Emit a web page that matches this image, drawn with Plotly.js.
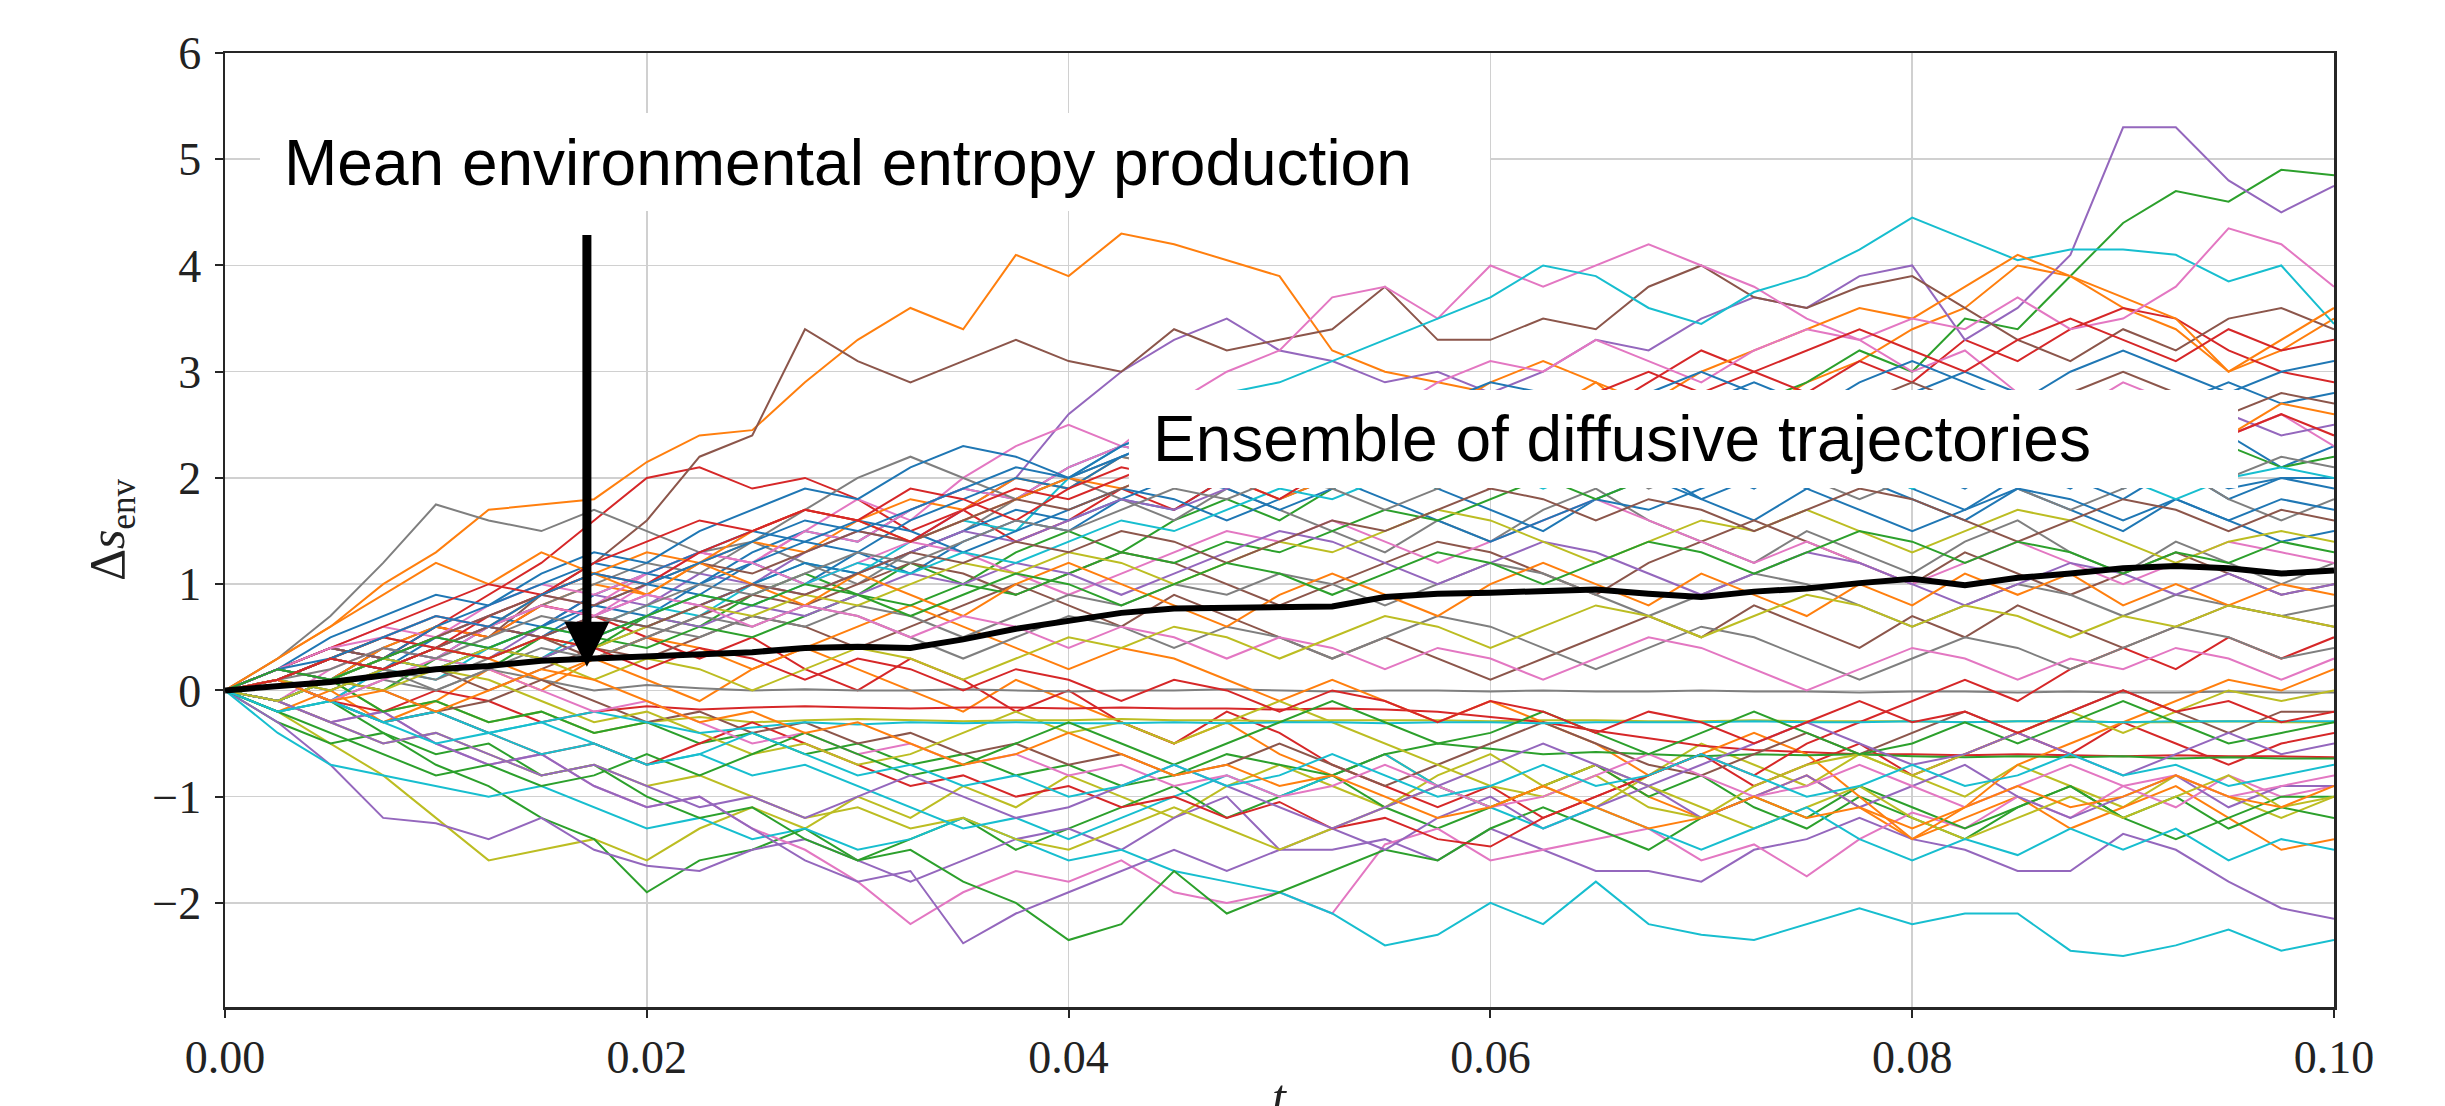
<!DOCTYPE html>
<html>
<head>
<meta charset="utf-8">
<script src="https://cdn.plot.ly/plotly-3.0.1.min.js"></script>
<style>html,body{margin:0;padding:0;background:#fff;}#chart{width:2445px;height:1106px;}</style>
</head>
<body>
<div id="chart"></div>
<script>
// time grid (t)
const T = [0, 0.0025, 0.005, 0.0075, 0.01, 0.0125, 0.015, 0.0175, 0.02, 0.0225, 0.025, 0.0275, 0.03, 0.0325, 0.035, 0.0375, 0.04, 0.0425, 0.045, 0.0475, 0.05, 0.0525, 0.055, 0.0575, 0.06, 0.0625, 0.065, 0.0675, 0.07, 0.0725, 0.075, 0.0775, 0.08, 0.0825, 0.085, 0.0875, 0.09, 0.0925, 0.095, 0.0975, 0.1];

// mean environmental entropy production
const MEAN = [0.00, 0.04, 0.08, 0.14, 0.20, 0.23, 0.28, 0.30, 0.32, 0.34, 0.36, 0.40, 0.41, 0.40, 0.48, 0.58, 0.66, 0.73, 0.77, 0.78, 0.78, 0.79, 0.88, 0.91, 0.92, 0.94, 0.95, 0.91, 0.88, 0.93, 0.96, 1.01, 1.05, 0.99, 1.06, 1.10, 1.15, 1.17, 1.15, 1.10, 1.13];

// individual trajectories (Delta s_env)
const traj00 = [0, 0.2, 0.1, 0.4, 0.3, 0.6, 0.5, 0.8, 0.7, 1.0, 1.2, 1.0, 1.3, 1.1, 1.4, 1.6, 1.5, 1.8, 1.7, 2.0, 2.2, 1.9, 2.1, 2.4, 2.2, 2.0, 2.3, 2.1, 1.8, 2.0, 2.3, 2.5, 2.2, 2.4, 2.1, 1.9, 2.2, 2.0, 2.4, 2.1, 2.3];
const traj01 = [0, 0.3, 0.6, 1.0, 1.3, 1.7, 1.75, 1.8, 2.15, 2.4, 2.45, 2.9, 3.3, 3.6, 3.4, 4.1, 3.9, 4.3, 4.2, 4.05, 3.9, 3.2, 3.0, 2.9, 2.8, 2.6, 2.9, 2.5, 2.3, 2.6, 2.9, 3.1, 3.4, 3.6, 4.0, 3.9, 3.6, 3.4, 3.0, 3.2, 3.5];
const traj02 = [0, -0.1, 0.1, 0.0, 0.3, 0.2, 0.5, 0.4, 0.7, 0.6, 0.9, 1.1, 0.9, 1.2, 1.0, 1.3, 1.5, 1.3, 1.6, 1.8, 1.6, 1.9, 2.1, 1.9, 2.2, 2.0, 2.3, 2.6, 2.4, 2.7, 2.9, 3.2, 3.0, 3.5, 3.4, 3.9, 4.4, 4.7, 4.6, 4.9, 4.85];
const traj03 = [0, 0.2, 0.4, 0.3, 0.6, 0.9, 1.2, 1.6, 2.0, 2.1, 1.9, 2.0, 1.8, 1.5, 1.7, 1.4, 1.6, 1.9, 1.7, 2.0, 2.3, 2.1, 2.4, 2.2, 2.5, 2.8, 2.6, 2.9, 3.2, 3.0, 2.8, 3.1, 2.9, 3.3, 3.1, 3.4, 3.6, 3.5, 3.2, 3.0, 2.9];
const traj04 = [0, 0.1, -0.1, 0.2, 0.4, 0.3, 0.6, 0.9, 0.8, 1.1, 1.0, 1.3, 1.5, 1.4, 1.7, 2.0, 2.6, 3.0, 3.3, 3.5, 3.2, 3.1, 2.9, 3.0, 2.8, 3.0, 3.3, 3.2, 3.5, 3.7, 3.6, 3.9, 4.0, 3.3, 3.6, 4.1, 5.3, 5.3, 4.8, 4.5, 4.75];
const traj05 = [0, 0.2, 0.1, 0.4, 0.6, 0.5, 0.9, 1.2, 1.6, 2.2, 2.4, 3.4, 3.1, 2.9, 3.1, 3.3, 3.1, 3.0, 3.4, 3.2, 3.3, 3.4, 3.8, 3.3, 3.3, 3.5, 3.4, 3.8, 4.0, 3.7, 3.6, 3.8, 3.9, 3.6, 3.3, 3.1, 3.4, 3.2, 3.5, 3.6, 3.4];
const traj06 = [0, -0.1, 0.2, 0.4, 0.3, 0.6, 0.8, 0.7, 1.0, 1.3, 1.2, 1.5, 1.8, 1.6, 2.0, 2.3, 2.5, 2.3, 2.7, 3.0, 3.2, 3.7, 3.8, 3.5, 4.0, 3.8, 4.0, 4.2, 4.0, 3.8, 3.5, 3.3, 3.0, 3.2, 2.8, 2.6, 2.9, 2.7, 2.4, 2.6, 2.3];
const traj07 = [0, 0.3, 0.7, 1.2, 1.75, 1.6, 1.5, 1.7, 1.5, 1.3, 1.4, 1.2, 1.0, 1.3, 1.5, 1.8, 2.0, 1.8, 1.6, 1.9, 1.7, 1.5, 1.3, 1.6, 1.4, 1.7, 1.9, 1.6, 1.4, 1.2, 1.5, 1.3, 1.1, 1.4, 1.6, 1.3, 1.1, 1.4, 1.2, 1.0, 1.2];
const traj08 = [0, -0.2, -0.5, -0.8, -1.2, -1.6, -1.5, -1.4, -1.6, -1.3, -1.1, -1.3, -1.0, -1.2, -0.9, -1.1, -0.8, -1.0, -1.2, -0.9, -0.7, -0.9, -1.1, -0.8, -0.6, -0.9, -1.1, -0.8, -0.5, -0.7, -0.9, -0.6, -0.8, -1.0, -0.7, -0.9, -1.1, -0.8, -1.0, -1.2, -1.0];
const traj09 = [0, 0.1, -0.1, 0.2, 0.1, 0.4, 0.3, 0.6, 0.8, 0.7, 1.0, 1.2, 1.1, 1.4, 1.6, 1.5, 2.0, 2.3, 2.5, 2.8, 2.9, 3.1, 3.3, 3.5, 3.7, 4.0, 3.9, 3.6, 3.45, 3.75, 3.9, 4.15, 4.45, 4.25, 4.05, 4.15, 4.15, 4.1, 3.85, 4.0, 3.45];
const traj10 = [0, 0.1, 0.3, 0.2, 0.5, 0.7, 0.6, 0.9, 1.1, 1.0, 1.3, 1.5, 1.4, 1.7, 1.9, 1.8, 2.1, 2.3, 2.2, 2.5, 2.7, 2.5, 2.3, 2.6, 2.4, 2.2, 2.0, 2.3, 2.1, 1.9, 2.2, 2.0, 1.8, 1.6, 1.9, 1.7, 1.5, 1.8, 1.6, 1.4, 1.5];
const traj11 = [0, -0.2, 0.0, -0.3, -0.1, 0.2, 0.0, 0.3, 0.1, -0.1, 0.2, 0.4, 0.2, 0.0, -0.2, 0.1, -0.1, -0.3, -0.5, -0.3, -0.6, -0.8, -0.6, -0.9, -1.1, -0.9, -0.7, -1.0, -1.2, -1.0, -0.8, -1.1, -1.4, -1.2, -1.0, -1.3, -1.1, -0.9, -1.2, -1.5, -1.4];
const traj12 = [0, -0.3, -0.5, -0.4, -0.7, -0.9, -1.2, -1.4, -1.9, -1.6, -1.5, -1.3, -1.6, -1.4, -1.2, -1.5, -1.3, -1.1, -0.9, -1.2, -1.0, -0.8, -1.1, -1.3, -1.1, -0.9, -0.7, -1.0, -0.8, -1.1, -1.3, -1.0, -1.2, -1.4, -1.1, -0.9, -1.2, -1.0, -1.3, -1.1, -1.2];
const traj13 = [0, 0.2, 0.4, 0.3, 0.6, 0.5, 0.8, 0.7, 0.5, 0.3, 0.5, 0.2, 0.0, 0.3, 0.1, -0.2, 0.0, -0.3, -0.5, -0.2, -0.4, -0.7, -0.9, -1.1, -0.9, -1.2, -1.0, -0.8, -0.6, -0.9, -0.7, -0.5, -0.8, -0.6, -0.4, -0.6, -0.3, -0.5, -0.7, -0.5, -0.4];
const traj14 = [0, -0.3, -0.7, -1.2, -1.25, -1.4, -1.2, -1.5, -1.65, -1.7, -1.5, -1.4, -1.6, -1.8, -1.6, -1.4, -1.3, -1.5, -1.2, -1.0, -1.5, -1.5, -1.4, -1.6, -1.3, -1.5, -1.7, -1.7, -1.8, -1.5, -1.4, -1.2, -1.4, -1.5, -1.7, -1.7, -1.35, -1.5, -1.8, -2.05, -2.15];
const traj15 = [0, -0.1, 0.1, 0.3, 0.2, 0.0, 0.2, 0.4, 0.3, 0.5, 0.7, 0.6, 0.4, 0.6, 0.8, 1.0, 0.8, 0.6, 0.9, 0.7, 0.5, 0.3, 0.5, 0.3, 0.1, 0.3, 0.5, 0.7, 0.5, 0.8, 0.6, 0.4, 0.7, 0.5, 0.8, 0.6, 0.4, 0.6, 0.8, 0.7, 0.6];
const traj16 = [0, -0.1, -0.3, -0.2, -0.5, -0.7, -0.6, -0.9, -1.1, -1.0, -1.3, -1.5, -1.8, -2.2, -1.9, -1.7, -1.8, -1.6, -1.9, -2.0, -1.9, -2.1, -1.45, -1.3, -1.6, -1.5, -1.4, -1.3, -1.6, -1.45, -1.75, -1.4, -1.15, -1.3, -1.0, -1.2, -0.9, -1.1, -0.8, -1.0, -0.9];
const traj17 = [0, 0.1, -0.1, 0.1, 0.0, 0.2, 0.1, 0.0, 0.05, 0.02, 0.0, 0.01, 0.0, 0.0, 0.01, 0.0, -0.01, 0.0, 0.0, 0.01, 0.0, -0.01, 0.0, 0.0, -0.01, 0.0, -0.01, -0.01, 0.0, -0.01, -0.01, -0.02, -0.01, -0.01, -0.02, -0.01, -0.02, -0.02, -0.01, -0.02, -0.02];
const traj18 = [0, -0.1, 0.1, -0.2, -0.1, -0.3, -0.2, -0.4, -0.3, -0.25, -0.3, -0.28, -0.27, -0.28, -0.29, -0.28, -0.28, -0.27, -0.28, -0.28, -0.29, -0.28, -0.28, -0.28, -0.29, -0.28, -0.28, -0.29, -0.29, -0.28, -0.29, -0.29, -0.29, -0.3, -0.29, -0.29, -0.3, -0.3, -0.29, -0.3, -0.3];
const traj19 = [0, -0.4, -0.7, -0.8, -0.9, -1.0, -0.9, -1.1, -1.3, -1.2, -1.4, -1.3, -1.5, -1.4, -1.2, -1.4, -1.6, -1.5, -1.7, -1.8, -1.9, -2.1, -2.4, -2.3, -2.0, -2.2, -1.8, -2.2, -2.3, -2.35, -2.2, -2.05, -2.2, -2.1, -2.1, -2.45, -2.5, -2.4, -2.25, -2.45, -2.35];
const traj20 = [0, 0.1, 0.0, 0.2, 0.4, 0.3, 0.5, 0.7, 0.6, 0.8, 1.0, 1.2, 1.1, 1.3, 1.5, 1.7, 1.6, 1.8, 2.0, 1.9, 1.7, 1.9, 2.1, 1.9, 1.7, 1.5, 1.8, 2.0, 1.8, 1.6, 1.9, 2.1, 1.9, 1.7, 2.0, 2.2, 1.9, 2.1, 1.8, 2.0, 2.0];
const traj21 = [0, 0.2, 0.1, 0.4, 0.6, 0.5, 0.8, 1.0, 0.9, 1.2, 1.4, 1.3, 1.6, 1.8, 1.7, 2.0, 1.9, 2.2, 2.1, 2.4, 2.6, 2.5, 2.8, 2.6, 2.9, 3.1, 2.9, 2.7, 3.0, 3.2, 3.4, 3.6, 3.5, 3.8, 4.1, 3.9, 3.7, 3.5, 3.0, 3.3, 3.6];
const traj22 = [0, -0.2, -0.1, -0.4, -0.6, -0.5, -0.8, -0.7, -1.0, -1.2, -1.1, -1.4, -1.6, -1.5, -1.8, -2.0, -2.35, -2.2, -1.7, -2.1, -1.9, -1.7, -1.5, -1.6, -1.3, -1.1, -1.3, -1.5, -1.2, -1.0, -1.2, -0.9, -1.1, -1.3, -1.1, -0.9, -1.2, -1.4, -1.2, -1.0, -1.0];
const traj23 = [0, 0.1, -0.1, -0.2, 0.0, -0.1, -0.3, -0.2, -0.15, -0.18, -0.16, -0.15, -0.16, -0.17, -0.16, -0.16, -0.17, -0.16, -0.17, -0.17, -0.18, -0.17, -0.18, -0.2, -0.25, -0.3, -0.38, -0.45, -0.52, -0.56, -0.58, -0.6, -0.6, -0.61, -0.6, -0.61, -0.62, -0.61, -0.62, -0.62, -0.63];
const traj24 = [0, -0.1, -0.3, -0.2, -0.5, -0.7, -0.6, -0.9, -1.1, -1.0, -1.3, -1.6, -1.8, -1.7, -2.38, -2.1, -1.9, -1.7, -1.5, -1.7, -1.5, -1.3, -1.5, -1.2, -1.0, -1.3, -1.1, -0.9, -1.2, -1.0, -0.8, -1.1, -0.9, -0.7, -1.0, -1.2, -1.0, -0.8, -1.1, -0.9, -0.9];
const traj25 = [0, 0.1, 0.3, 0.2, 0.4, 0.6, 0.5, 0.3, 0.5, 0.7, 0.9, 0.8, 1.0, 1.2, 1.1, 0.9, 1.1, 1.3, 1.2, 1.0, 0.8, 1.0, 1.2, 1.4, 1.3, 1.1, 0.9, 1.2, 1.4, 1.6, 1.4, 1.2, 1.0, 1.3, 1.1, 0.9, 1.1, 1.3, 1.1, 0.9, 1.0];
const traj26 = [0, 0.2, 0.4, 0.3, 0.5, 0.7, 0.9, 0.8, 1.1, 1.3, 1.2, 1.5, 1.4, 1.7, 1.9, 1.8, 2.1, 2.3, 2.2, 2.5, 2.4, 2.7, 2.6, 2.9, 3.1, 3.0, 3.3, 3.1, 2.9, 3.2, 3.4, 3.3, 3.5, 3.4, 3.7, 3.4, 3.5, 3.8, 4.35, 4.2, 3.8];
const traj27 = [0, 0.1, 0.3, 0.5, 0.4, 0.6, 0.8, 1.0, 1.2, 1.1, 1.4, 1.7, 2.0, 2.2, 2.0, 1.8, 2.0, 2.2, 2.1, 2.3, 2.5, 2.3, 2.1, 2.4, 2.2, 2.0, 2.2, 1.9, 2.1, 2.3, 2.0, 1.8, 2.0, 2.2, 1.9, 1.7, 1.9, 2.1, 1.8, 1.6, 1.8];
const traj28 = [0, -0.1, -0.3, -0.5, -0.4, -0.6, -0.8, -0.7, -0.9, -0.8, -1.0, -1.2, -1.1, -1.3, -1.2, -1.4, -1.5, -1.3, -1.1, -1.3, -1.5, -1.3, -1.1, -0.9, -1.1, -0.9, -0.7, -0.9, -1.1, -1.3, -1.1, -0.9, -1.2, -1.4, -1.2, -1.0, -1.2, -1.0, -0.8, -1.1, -1.0];
const traj29 = [0, 0.1, -0.1, -0.3, -0.2, -0.4, -0.3, -0.5, -0.7, -0.6, -0.8, -0.7, -0.9, -1.1, -1.3, -1.2, -1.4, -1.2, -1.0, -0.8, -1.0, -0.8, -0.6, -0.9, -1.1, -1.3, -1.1, -1.3, -1.5, -1.3, -1.1, -1.4, -1.6, -1.4, -1.55, -1.3, -1.5, -1.3, -1.6, -1.4, -1.5];
const traj30 = [0, 0.2, 0.1, 0.3, 0.5, 0.4, 0.6, 0.8, 1.0, 0.9, 1.2, 1.4, 1.3, 1.6, 1.8, 2.0, 1.9, 2.2, 2.4, 2.3, 2.5, 2.7, 2.5, 2.3, 2.6, 2.8, 2.6, 2.4, 2.7, 2.9, 2.7, 2.5, 2.8, 3.0, 2.8, 2.6, 2.4, 2.7, 2.9, 2.7, 2.8];
const traj31 = [0, 0.1, 0.3, 0.2, 0.4, 0.3, 0.1, 0.3, 0.5, 0.4, 0.2, 0.4, 0.6, 0.8, 0.6, 0.4, 0.2, 0.4, 0.3, 0.1, -0.1, 0.1, -0.1, -0.3, -0.1, -0.3, -0.5, -0.8, -0.6, -0.4, -0.6, -1.0, -1.4, -1.1, -0.7, -0.5, -0.3, -0.1, 0.1, 0.0, 0.2];
const traj32 = [0, -0.1, 0.1, -0.2, -0.1, -0.3, -0.2, -0.4, -0.3, -0.5, -0.4, -0.6, -0.5, -0.7, -0.6, -0.8, -0.7, -0.9, -0.8, -0.6, -0.7, -0.8, -0.6, -0.5, -0.55, -0.6, -0.58, -0.6, -0.62, -0.6, -0.61, -0.6, -0.62, -0.63, -0.62, -0.63, -0.62, -0.64, -0.63, -0.64, -0.64];
const traj33 = [0, 0.1, -0.1, -0.3, -0.2, -0.4, -0.6, -0.5, -0.7, -0.5, -0.3, -0.5, -0.7, -0.9, -0.8, -1.0, -0.9, -1.1, -1.0, -1.2, -1.05, -1.3, -1.2, -1.4, -1.47, -1.2, -1.0, -0.8, -0.6, -0.8, -0.5, -0.3, -0.1, 0.1, -0.1, 0.2, 0.4, 0.2, 0.5, 0.3, 0.5];
const traj34 = [0, 0.1, 0.3, 0.2, 0.4, 0.6, 0.5, 0.7, 0.9, 0.8, 1.0, 0.9, 1.1, 1.3, 1.5, 1.4, 1.6, 1.8, 1.7, 1.9, 2.1, 2.0, 2.2, 2.4, 2.3, 2.1, 2.3, 2.5, 2.3, 2.1, 2.4, 2.6, 2.4, 2.2, 2.5, 2.7, 2.5, 2.3, 2.6, 2.4, 2.5];
const traj35 = [0, -0.1, 0.1, 0.0, -0.2, -0.1, 0.1, -0.1, -0.3, -0.2, -0.4, -0.3, -0.5, -0.4, -0.6, -0.5, -0.7, -0.6, -0.8, -0.7, -0.5, -0.7, -0.9, -0.7, -0.5, -0.3, -0.5, -0.7, -0.8, -0.6, -0.4, -0.6, -0.4, -0.2, -0.4, -0.2, 0.0, -0.2, -0.4, -0.2, -0.2];
const traj36 = [0, 0.2, 0.4, 0.6, 0.5, 0.8, 1.0, 0.9, 1.1, 1.3, 1.2, 1.0, 1.2, 1.4, 1.3, 1.1, 0.9, 1.1, 1.3, 1.5, 1.4, 1.6, 1.4, 1.2, 1.4, 1.6, 1.8, 1.6, 1.4, 1.2, 1.4, 1.2, 1.0, 1.2, 1.4, 1.2, 1.0, 1.2, 1.4, 1.3, 1.2];
const traj37 = [0, 0.1, 0.0, 0.2, 0.1, 0.3, 0.5, 0.4, 0.6, 0.5, 0.7, 0.6, 0.8, 0.7, 0.5, 0.7, 0.9, 0.8, 1.0, 0.9, 1.1, 1.0, 0.8, 1.0, 1.2, 1.1, 0.9, 0.7, 0.9, 1.1, 1.0, 0.8, 0.6, 0.8, 1.0, 0.9, 0.7, 0.9, 0.8, 0.7, 0.8];
const traj38 = [0, -0.1, 0.1, 0.0, 0.2, 0.1, -0.1, -0.3, -0.2, -0.4, -0.6, -0.5, -0.7, -0.6, -0.4, -0.2, -0.4, -0.3, -0.5, -0.3, -0.1, -0.3, -0.5, -0.7, -0.9, -1.0, -0.8, -1.1, -1.2, -0.9, -0.7, -0.6, -0.8, -0.6, -0.4, -0.2, -0.4, -0.2, 0.0, -0.1, 0.0];
const traj39 = [0, -0.2, -0.1, -0.3, -0.2, -0.4, -0.3, -0.2, -0.3, -0.4, -0.35, -0.3, -0.32, -0.3, -0.31, -0.3, -0.31, -0.31, -0.3, -0.31, -0.3, -0.3, -0.31, -0.3, -0.3, -0.31, -0.3, -0.3, -0.3, -0.29, -0.3, -0.3, -0.29, -0.3, -0.29, -0.29, -0.3, -0.29, -0.29, -0.29, -0.29];
const traj40 = [0, 0.2, 0.4, 0.3, 0.6, 0.8, 1.0, 1.2, 1.1, 1.3, 1.5, 1.4, 1.6, 1.5, 1.3, 1.5, 1.7, 1.9, 1.8, 1.6, 1.8, 2.0, 1.8, 1.6, 1.4, 1.6, 1.8, 1.7, 1.9, 2.1, 1.9, 1.7, 1.5, 1.7, 1.9, 1.8, 1.6, 1.8, 1.6, 1.8, 1.7];
const traj41 = [0, 0.1, 0.3, 0.5, 0.7, 0.6, 0.9, 1.1, 1.3, 1.2, 1.5, 1.7, 1.6, 1.4, 1.6, 1.8, 2.0, 1.9, 2.1, 2.0, 1.8, 2.0, 2.2, 2.4, 2.3, 2.5, 2.7, 2.5, 2.3, 2.5, 2.7, 2.6, 2.8, 2.6, 2.4, 2.6, 2.8, 2.6, 2.4, 2.7, 2.6];
const traj42 = [0, -0.1, 0.1, 0.3, 0.2, 0.4, 0.3, 0.5, 0.4, 0.6, 0.5, 0.7, 0.9, 0.8, 1.0, 0.9, 1.1, 1.3, 1.2, 1.4, 1.3, 1.5, 1.7, 1.6, 1.8, 2.0, 1.8, 2.0, 2.2, 2.4, 2.2, 2.0, 2.3, 2.5, 2.3, 2.1, 2.4, 2.6, 2.3, 2.1, 2.2];
const traj43 = [0, 0.1, 0.3, 0.5, 0.4, 0.7, 0.9, 1.1, 1.0, 1.3, 1.5, 1.7, 1.6, 1.9, 1.8, 1.6, 1.9, 2.1, 2.0, 2.2, 2.1, 2.3, 2.2, 2.5, 2.7, 2.6, 2.8, 3.0, 2.8, 3.0, 3.2, 3.4, 3.2, 3.0, 3.3, 3.5, 3.3, 3.1, 3.4, 3.2, 3.3];
const traj44 = [0, -0.1, 0.1, 0.3, 0.2, 0.4, 0.3, 0.5, 0.7, 0.6, 0.8, 0.7, 0.9, 1.1, 1.0, 1.2, 1.1, 0.9, 1.1, 1.3, 1.5, 1.4, 1.2, 1.0, 1.2, 1.4, 1.3, 1.1, 0.9, 1.1, 1.3, 1.2, 1.0, 0.8, 1.0, 1.2, 1.1, 0.9, 1.1, 0.9, 1.0];
const traj45 = [0, 0.2, 0.4, 0.3, 0.5, 0.7, 0.9, 0.8, 1.0, 1.2, 1.1, 1.3, 1.5, 1.4, 1.6, 1.8, 1.7, 1.9, 2.1, 2.3, 2.2, 2.4, 2.2, 2.0, 2.3, 2.5, 2.4, 2.6, 2.8, 2.6, 2.4, 2.7, 2.9, 2.7, 2.5, 2.8, 3.0, 2.8, 2.6, 2.8, 2.7];
const traj46 = [0, 0.1, -0.1, 0.1, 0.3, 0.2, 0.0, -0.2, -0.1, -0.3, -0.5, -0.4, -0.6, -0.5, -0.7, -0.6, -0.8, -0.7, -0.9, -0.8, -1.0, -0.9, -0.7, -0.9, -1.1, -1.0, -0.8, -0.6, -0.8, -1.0, -0.9, -0.7, -0.9, -1.1, -0.9, -0.7, -0.9, -0.8, -1.0, -0.9, -0.8];
const traj47 = [0, 0.1, 0.3, 0.2, 0.0, 0.2, 0.4, 0.3, 0.5, 0.7, 0.6, 0.8, 0.7, 0.5, 0.3, 0.5, 0.7, 0.6, 0.4, 0.6, 0.5, 0.3, 0.5, 0.7, 0.6, 0.4, 0.2, 0.4, 0.6, 0.5, 0.3, 0.1, 0.3, 0.5, 0.4, 0.2, 0.4, 0.6, 0.5, 0.3, 0.4];
const traj48 = [0, 0.1, 0.0, 0.2, 0.4, 0.3, 0.5, 0.4, 0.6, 0.8, 0.7, 0.9, 0.8, 1.0, 1.2, 1.1, 1.3, 1.2, 1.0, 1.2, 1.4, 1.3, 1.5, 1.7, 1.6, 1.4, 1.2, 1.4, 1.6, 1.5, 1.7, 1.5, 1.3, 1.5, 1.7, 1.6, 1.4, 1.2, 1.4, 1.5, 1.4];
const traj49 = [0, -0.1, 0.1, 0.3, 0.2, 0.4, 0.6, 0.5, 0.7, 0.9, 0.8, 1.0, 1.2, 1.1, 1.3, 1.2, 1.4, 1.6, 1.5, 1.7, 1.9, 1.8, 2.0, 2.2, 2.1, 1.9, 2.1, 2.3, 2.2, 2.4, 2.3, 2.1, 1.9, 2.1, 2.3, 2.2, 2.0, 1.8, 2.0, 2.1, 2.0];
const traj50 = [0, 0.2, 0.5, 0.7, 0.9, 0.8, 1.1, 1.3, 1.2, 1.5, 1.7, 1.9, 1.8, 2.1, 2.3, 2.2, 2.0, 2.3, 2.5, 2.4, 2.6, 2.4, 2.2, 2.5, 2.7, 2.5, 2.3, 2.1, 2.4, 2.2, 2.0, 2.3, 2.1, 1.9, 2.2, 2.0, 1.8, 2.1, 1.9, 2.0, 1.9];
const traj51 = [0, 0.3, 0.6, 0.9, 1.2, 1.0, 1.3, 1.1, 0.9, 1.2, 1.0, 0.8, 1.1, 0.9, 0.7, 1.0, 1.2, 1.0, 0.8, 0.6, 0.9, 1.1, 0.9, 0.7, 1.0, 1.2, 1.0, 0.8, 1.1, 0.9, 0.7, 1.0, 0.8, 1.1, 0.9, 1.1, 0.8, 1.0, 0.8, 1.0, 0.9];
const traj52 = [0, -0.2, -0.4, -0.6, -0.8, -0.7, -0.9, -0.8, -0.6, -0.8, -0.6, -0.4, -0.6, -0.8, -0.7, -0.5, -0.3, -0.5, -0.7, -0.5, -0.3, -0.1, -0.3, -0.5, -0.4, -0.2, -0.4, -0.6, -0.4, -0.2, -0.4, -0.6, -0.5, -0.3, -0.5, -0.3, -0.1, -0.3, -0.5, -0.4, -0.3];
const traj53 = [0, 0.2, 0.4, 0.6, 0.8, 1.0, 0.9, 1.2, 1.4, 1.6, 1.5, 1.7, 1.6, 1.4, 1.7, 1.9, 1.8, 2.0, 2.2, 2.0, 1.8, 2.1, 2.3, 2.1, 1.9, 2.2, 2.4, 2.2, 2.0, 2.3, 2.5, 2.3, 2.6, 2.4, 2.2, 2.5, 2.3, 2.1, 2.4, 2.6, 2.4];
const traj54 = [0, -0.1, -0.3, -0.5, -0.4, -0.6, -0.8, -0.7, -0.9, -1.1, -1.0, -1.2, -1.0, -0.8, -1.0, -1.2, -1.1, -0.9, -0.7, -0.9, -1.1, -1.3, -1.1, -0.9, -0.7, -0.5, -0.7, -0.9, -0.7, -0.5, -0.3, -0.5, -0.7, -0.6, -0.4, -0.6, -0.8, -0.6, -0.4, -0.6, -0.5];
const traj55 = [0, 0.1, 0.3, 0.2, 0.4, 0.6, 0.5, 0.7, 0.6, 0.8, 1.0, 0.9, 1.1, 1.3, 1.2, 1.4, 1.3, 1.5, 1.4, 1.2, 1.4, 1.6, 1.5, 1.7, 1.9, 1.8, 1.6, 1.8, 1.7, 1.5, 1.7, 1.9, 1.8, 1.6, 1.4, 1.6, 1.8, 1.7, 1.5, 1.7, 1.6];
const traj56 = [0, 0.2, 0.4, 0.5, 0.7, 0.6, 0.8, 0.7, 0.9, 0.8, 0.6, 0.8, 0.7, 0.5, 0.7, 0.6, 0.4, 0.6, 0.5, 0.3, 0.5, 0.4, 0.2, 0.4, 0.3, 0.1, 0.3, 0.5, 0.4, 0.2, 0.0, 0.2, 0.4, 0.3, 0.1, 0.3, 0.2, 0.4, 0.3, 0.1, 0.3];
const traj57 = [0, 0.1, 0.2, 0.4, 0.3, 0.5, 0.7, 0.6, 0.8, 1.0, 0.9, 1.1, 1.3, 1.2, 1.4, 1.6, 1.5, 1.7, 1.9, 1.8, 2.0, 1.9, 1.7, 1.9, 2.1, 2.3, 2.2, 2.0, 2.2, 2.4, 2.3, 2.5, 2.3, 2.1, 2.3, 2.2, 2.0, 2.2, 2.0, 2.2, 2.1];
const traj58 = [0, -0.1, 0.1, 0.3, 0.2, 0.4, 0.3, 0.1, 0.3, 0.2, 0.0, 0.2, 0.4, 0.3, 0.1, 0.3, 0.5, 0.4, 0.6, 0.5, 0.3, 0.5, 0.7, 0.6, 0.4, 0.6, 0.8, 0.7, 0.5, 0.7, 0.9, 0.8, 0.6, 0.8, 0.7, 0.5, 0.7, 0.6, 0.8, 0.7, 0.6];
const traj59 = [0, -0.2, -0.1, -0.3, -0.5, -0.4, -0.6, -0.5, -0.7, -0.6, -0.4, -0.6, -0.8, -0.7, -0.9, -0.8, -1.0, -0.9, -0.7, -0.9, -0.8, -0.6, -0.8, -1.0, -0.9, -0.7, -0.9, -0.8, -0.6, -0.8, -1.0, -0.9, -0.7, -0.9, -0.8, -0.6, -0.8, -0.7, -0.9, -0.8, -0.7];
const traj60 = [0, 0.2, 0.3, 0.5, 0.7, 0.6, 0.9, 1.1, 1.0, 1.2, 1.4, 1.6, 1.5, 1.7, 1.9, 2.1, 2.0, 2.2, 2.4, 2.6, 2.5, 2.3, 2.5, 2.7, 2.9, 2.8, 2.6, 2.8, 3.0, 2.8, 2.6, 2.9, 3.1, 2.9, 2.7, 3.0, 3.2, 3.0, 2.8, 3.0, 3.1];
const traj61 = [0, 0.1, -0.1, 0.0, -0.2, 0.0, 0.2, 0.1, -0.1, -0.3, -0.2, -0.4, -0.3, -0.5, -0.7, -0.6, -0.4, -0.6, -0.8, -0.7, -0.9, -0.8, -1.0, -1.2, -1.1, -0.9, -1.1, -1.3, -1.2, -1.0, -1.2, -1.1, -1.3, -1.1, -0.9, -1.1, -1.0, -0.8, -1.0, -1.1, -0.9];
const traj62 = [0, 0.2, 0.1, 0.3, 0.5, 0.4, 0.6, 0.5, 0.7, 0.9, 0.8, 1.0, 0.9, 0.7, 0.9, 1.1, 1.0, 0.8, 1.0, 1.2, 1.1, 0.9, 1.1, 1.3, 1.2, 1.0, 1.2, 1.4, 1.3, 1.1, 1.3, 1.5, 1.4, 1.2, 1.4, 1.3, 1.1, 1.3, 1.2, 1.4, 1.3];
const traj63 = [0, 0.1, 0.3, 0.2, 0.4, 0.3, 0.5, 0.4, 0.2, 0.4, 0.3, 0.1, 0.3, 0.2, 0.0, 0.2, 0.1, -0.1, 0.1, 0.0, -0.2, 0.0, -0.1, -0.3, -0.1, -0.2, -0.4, -0.2, -0.3, -0.5, -0.3, -0.1, -0.3, -0.2, -0.4, -0.2, 0.0, -0.2, -0.1, -0.3, -0.2];

const TRAJECTORIES = [traj00, traj01, traj02, traj03, traj04, traj05, traj06, traj07, traj08, traj09,
  traj10, traj11, traj12, traj13, traj14, traj15, traj16, traj17, traj18, traj19,
  traj20, traj21, traj22, traj23, traj24, traj25, traj26, traj27, traj28, traj29,
  traj30, traj31, traj32, traj33, traj34, traj35, traj36, traj37, traj38, traj39,
  traj40, traj41, traj42, traj43, traj44, traj45, traj46, traj47, traj48, traj49,
  traj50, traj51, traj52, traj53, traj54, traj55, traj56, traj57, traj58, traj59,
  traj60, traj61, traj62, traj63];

// axis ticks
const X_TICKS = [0, 0.02, 0.04, 0.06, 0.08, 0.1];
const X_TICK_TEXT = ['0.00', '0.02', '0.04', '0.06', '0.08', '0.10'];
const Y_TICKS = [-2, -1, 0, 1, 2, 3, 4, 5, 6];
const Y_TICK_TEXT = ['\u22122', '\u22121', '0', '1', '2', '3', '4', '5', '6'];

// annotation anchor points (data coordinates)
const ARROW_TIP = {t: 0.01716, s: 0.222};
const ARROW_TAIL = {t: 0.01716, s: 4.30};

const PALETTE = ['#1f77b4', '#ff7f0e', '#2ca02c', '#d62728', '#9467bd', '#8c564b', '#e377c2', '#7f7f7f', '#bcbd22', '#17becf'];

const traces = TRAJECTORIES.map((ys, i) => ({
  x: T, y: ys, type: 'scatter', mode: 'lines',
  line: {color: PALETTE[i % 10], width: 2},
  hoverinfo: 'skip', showlegend: false
}));
traces.push({
  x: T, y: MEAN, type: 'scatter', mode: 'lines',
  line: {color: '#000000', width: 6},
  hoverinfo: 'skip', showlegend: false
});

const serif = "'Liberation Serif', 'DejaVu Serif', serif";
const sans = "'Liberation Sans', Arial, sans-serif";

const axisCommon = {
  showline: true, linecolor: '#262626', linewidth: 2.5, mirror: true,
  ticks: 'outside', ticklen: 8, tickwidth: 2, tickcolor: '#262626',
  showgrid: true, gridcolor: '#d0d0d0', gridwidth: 1.5,
  zeroline: false, tickfont: {family: serif, size: 46, color: '#222'},
  fixedrange: true
};

const layout = {
  width: 2445, height: 1106,
  margin: {l: 225, r: 111, t: 53, b: 99, pad: 0},
  paper_bgcolor: '#ffffff', plot_bgcolor: '#ffffff',
  showlegend: false, hovermode: false,
  xaxis: Object.assign({}, axisCommon, {
    range: [0, 0.1], tickmode: 'array', tickvals: X_TICKS, ticktext: X_TICK_TEXT
  }),
  yaxis: Object.assign({}, axisCommon, {
    range: [-2.98, 6], tickmode: 'array', tickvals: Y_TICKS, ticktext: Y_TICK_TEXT,
    ticklabelstandoff: 4,
    title: {text: '\u0394<i>s</i><sub>env</sub>', font: {family: serif, size: 50, color: '#222'}, standoff: 12}
  }),
  shapes: [
    {type: 'rect', xref: 'paper', yref: 'paper', x0: 0.0166, x1: 0.5998, y0: 0.8344, y1: 0.9371,
     fillcolor: '#ffffff', line: {width: 0}, layer: 'above'},
    {type: 'rect', xref: 'paper', yref: 'paper', x0: 0.4286, x1: 0.9545, y0: 0.5440, y1: 0.6468,
     fillcolor: '#ffffff', line: {width: 0}, layer: 'above'}
  ],
  annotations: [
    {xref: 'paper', yref: 'paper', x: 0.027, y: 0.8847, xanchor: 'left', yanchor: 'middle',
     text: 'Mean environmental entropy production', showarrow: false,
     font: {family: sans, size: 64, color: '#000'}},
    {xref: 'paper', yref: 'paper', x: 0.4391, y: 0.5949, xanchor: 'left', yanchor: 'middle',
     text: 'Ensemble of diffusive trajectories', showarrow: false,
     font: {family: sans, size: 64, color: '#000'}},
    // x-axis title, partly below the bottom edge as in the reference
    {xref: 'paper', yref: 'paper', x: 0.5, y: -0.063, xanchor: 'center', yanchor: 'top',
     text: '<i>t</i>', showarrow: false,
     font: {family: serif, size: 50, color: '#222'}},
    {xref: 'x', yref: 'y', axref: 'x', ayref: 'y',
     x: ARROW_TIP.t, y: ARROW_TIP.s, ax: ARROW_TAIL.t, ay: ARROW_TAIL.s,
     text: '', showarrow: true, arrowhead: 2, arrowsize: 1, arrowwidth: 9,
     arrowcolor: '#000000', standoff: 0, startstandoff: 0}
  ]
};

Plotly.newPlot('chart', traces, layout, {staticPlot: true, displayModeBar: false});
</script>
</body>
</html>
